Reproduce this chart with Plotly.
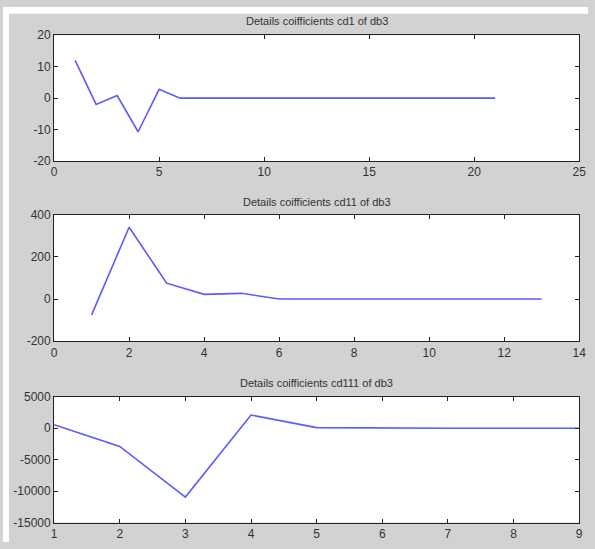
import plotly.graph_objects as go

# Data
cd1_x = list(range(1, 22))
cd1_y = [12, -2, 0.8, -10.7, 2.8] + [0] * 16

cd11_x = list(range(1, 14))
cd11_y = [-75, 340, 75, 22, 27] + [0] * 8

cd111_x = list(range(1, 10))
cd111_y = [550, -2900, -10950, 2100, 100, 0, 0, 0, 0]

titles = ["Details coifficients cd1 of db3",
          "Details coifficients cd11 of db3",
          "Details coifficients cd111 of db3"]

x_ranges = [[0, 25], [0, 14], [1, 9]]
x_ticks = [[0, 5, 10, 15, 20, 25], [0, 2, 4, 6, 8, 10, 12, 14], list(range(1, 10))]
y_ranges = [[-20, 20], [-200, 400], [-15000, 5000]]
y_ticks = [[-20, -10, 0, 10, 20], [-200, 0, 200, 400], [-15000, -10000, -5000, 0, 5000]]

W, H = 595, 549
left, right = 52, 586
tops = [29, 213, 400]
bottoms = [158, 343, 529]
title_centers = [14, 200, 386]

fig = go.Figure()
series = [(cd1_x, cd1_y), (cd11_x, cd11_y), (cd111_x, cd111_y)]
axis_font = dict(family="Arial, Liberation Sans, sans-serif", size=12, color="#333333")

for i, (xs, ys) in enumerate(series):
    suffix = "" if i == 0 else str(i + 1)
    fig.add_trace(go.Scatter(x=xs, y=ys, mode="lines",
                             line=dict(color="#5a5aff", width=1.6),
                             xaxis="x" + suffix, yaxis="y" + suffix,
                             showlegend=False, hoverinfo="skip"))
    ydom = [1 - bottoms[i] / H, 1 - tops[i] / H]
    common = dict(showgrid=False, zeroline=False, showline=True, linecolor="#222222",
                  linewidth=1, mirror="ticks", ticks="inside", ticklen=4,
                  tickcolor="#222222", tickfont=axis_font)
    fig.update_layout(**{
        "xaxis" + suffix: dict(domain=[left / W, right / W], range=x_ranges[i],
                               tickvals=x_ticks[i], ticktext=[str(v) for v in x_ticks[i]],
                               anchor="y" + suffix, **common),
        "yaxis" + suffix: dict(domain=ydom, range=y_ranges[i], tickvals=y_ticks[i],
                               ticktext=[str(v) for v in y_ticks[i]],
                               anchor="x" + suffix, **common),
    })
    fig.add_annotation(text=titles[i], x=(left + right) / 2 / W,
                       y=1 - title_centers[i] / H,
                       xref="paper", yref="paper", xanchor="center", yanchor="middle",
                       showarrow=False,
                       font=dict(family="Arial, Liberation Sans, sans-serif", size=11,
                                 color="#333333"))

# thin white strips along the top and left edges of the grey figure
fig.add_shape(type="rect", xref="paper", yref="paper", x0=0, x1=6 / W, y0=0, y1=1,
              fillcolor="white", line=dict(width=0), layer="below")
fig.add_shape(type="rect", xref="paper", yref="paper", x0=0, x1=1, y0=1 - 7 / H, y1=1,
              fillcolor="white", line=dict(width=0), layer="below")

fig.update_layout(width=W, height=H, margin=dict(l=0, r=0, t=0, b=0),
                  paper_bgcolor="#d2d2d2", plot_bgcolor="white")

fig.write_html("out.html", config={"displayModeBar": False},
               post_script="document.body.style.margin='0';document.body.style.overflow='hidden';")
